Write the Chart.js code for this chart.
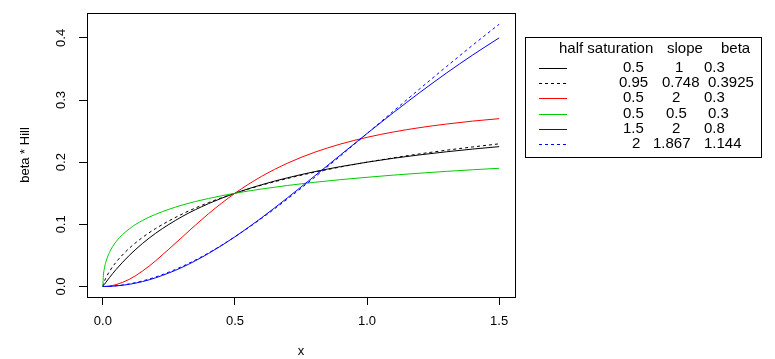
<!DOCTYPE html>
<html><head><meta charset="utf-8">
<script src="https://cdn.jsdelivr.net/npm/chart.js@4/dist/chart.umd.min.js"></script>
<style>html,body{margin:0;padding:0;background:#fff;}canvas{display:block;}</style>
</head><body>
<canvas id="c" width="775" height="359"></canvas>
<script>
// ---- data ----
const xValues = [0, 0.002, 0.005, 0.01, 0.025, 0.05, 0.1, 0.15, 0.2, 0.3, 0.4, 0.5, 0.6, 0.7, 0.8, 0.9, 1.0, 1.1, 1.2, 1.3, 1.4, 1.5];
const hillK05n1   = [0, 0.0012, 0.0030, 0.0059, 0.0143, 0.0273, 0.0500, 0.0692, 0.0857, 0.1125, 0.1333, 0.1500, 0.1636, 0.1750, 0.1846, 0.1929, 0.2000, 0.2063, 0.2118, 0.2167, 0.2211, 0.2250];
const hillK095n075 = [0, 0.0039, 0.0076, 0.0126, 0.0242, 0.0391, 0.0615, 0.0789, 0.0933, 0.1165, 0.1349, 0.1500, 0.1629, 0.1739, 0.1837, 0.1923, 0.2000, 0.2070, 0.2134, 0.2192, 0.2245, 0.2295];
const hillK05n2   = [0, 0.0000, 0.0000, 0.0001, 0.0007, 0.0030, 0.0115, 0.0248, 0.0414, 0.0794, 0.1171, 0.1500, 0.1770, 0.1986, 0.2157, 0.2292, 0.2400, 0.2486, 0.2556, 0.2613, 0.2661, 0.2700];
const hillK05n05  = [0, 0.0178, 0.0273, 0.0372, 0.0548, 0.0721, 0.0927, 0.1062, 0.1162, 0.1310, 0.1416, 0.1500, 0.1568, 0.1626, 0.1676, 0.1719, 0.1757, 0.1792, 0.1823, 0.1852, 0.1878, 0.1902];
const hillK15n2   = [0, 0.0000, 0.0000, 0.0000, 0.0002, 0.0009, 0.0035, 0.0079, 0.0140, 0.0308, 0.0531, 0.0800, 0.1103, 0.1431, 0.1772, 0.2118, 0.2462, 0.2798, 0.3122, 0.3432, 0.3725, 0.4000];
const hillK2n187  = [0, 0.0000, 0.0000, 0.0001, 0.0003, 0.0012, 0.0042, 0.0090, 0.0153, 0.0322, 0.0540, 0.0800, 0.1093, 0.1412, 0.1751, 0.2103, 0.2461, 0.2822, 0.3182, 0.3536, 0.3883, 0.4220];

const halfSaturation = ['0.5', '0.95', '0.5', '0.5', '1.5', '2'];
const slope          = ['1', '0.748', '2', '0.5', '2', '1.867'];
const beta           = ['0.3', '0.3925', '0.3', '0.3', '0.8', '1.144'];
const legendHeader   = ['half saturation', 'slope', 'beta'];

const xTickValues = [0, 0.5, 1.0, 1.5];
const xTickLabels = ['0.0', '0.5', '1.0', '1.5'];
const yTickValues = [0, 0.1, 0.2, 0.3, 0.4];
const yTickLabels = ['0.0', '0.1', '0.2', '0.3', '0.4'];
const xTitle = 'x';
const yTitle = 'beta * Hill';

// ---- styles ----
const seriesList = [hillK05n1, hillK095n075, hillK05n2, hillK05n05, hillK15n2, hillK2n187];
const seriesColors = ['#000000', '#000000', '#FF0000', '#00CD00', '#0000FF', '#0000FF'];
const seriesDash = [[], [3, 3], [], [], [], [3, 3]];
const FONT = '"Liberation Sans", Arial, sans-serif';

const datasets = seriesList.map((ys, i) => ({
  data: xValues.map((x, j) => ({x: x, y: ys[j]})),
  borderColor: seriesColors[i],
  borderWidth: 1,
  borderDash: seriesDash[i],
  pointRadius: 0,
  fill: false,
  cubicInterpolationMode: 'monotone',
  order: seriesList.length - i
}));

const rPlotDecor = {
  id: 'rPlotDecor',
  afterDraw(chart) {
    const ctx = chart.ctx, a = chart.chartArea;
    const xs = chart.scales.x, ys = chart.scales.y;
    ctx.save();
    ctx.strokeStyle = '#000'; ctx.lineWidth = 1; ctx.setLineDash([]);
    ctx.strokeRect(Math.round(a.left) + 0.5, Math.round(a.top) + 0.5, Math.round(a.right - a.left), Math.round(a.bottom - a.top));
    ctx.fillStyle = '#000';
    ctx.font = '13px ' + FONT;
    // x tick labels
    ctx.textAlign = 'center'; ctx.textBaseline = 'alphabetic';
    xTickValues.forEach((v, i) => ctx.fillText(xTickLabels[i], xs.getPixelForValue(v), 325));
    // y tick labels (rotated)
    yTickValues.forEach((v, i) => {
      ctx.save();
      ctx.translate(65, ys.getPixelForValue(v));
      ctx.rotate(-Math.PI / 2);
      ctx.fillText(yTickLabels[i], 0, 0);
      ctx.restore();
    });
    // axis titles
    ctx.fillText(xTitle, (a.left + a.right) / 2, 355);
    ctx.save();
    ctx.translate(29, (a.top + a.bottom) / 2);
    ctx.rotate(-Math.PI / 2);
    ctx.fillText(yTitle, 0, 0);
    ctx.restore();

    // legend
    ctx.strokeRect(525.5, 37.5, 236, 120);
    ctx.font = '15px ' + FONT;
    ctx.textAlign = 'left';
    const headerX = [559, 667, 721];
    legendHeader.forEach((t, i) => ctx.fillText(t, headerX[i], 53.3));
    const colX = [[623, 675, 704], [619, 662, 708], [623, 672, 704], [623, 666, 708], [623, 672, 704], [632, 653, 704]];
    for (let r = 0; r < seriesList.length; r++) {
      const yb = 71.7 + r * 15.35;
      ctx.strokeStyle = seriesColors[r];
      ctx.setLineDash(seriesDash[r]);
      ctx.beginPath();
      ctx.moveTo(539, Math.round(yb - 4) + 0.5);
      ctx.lineTo(567, Math.round(yb - 4) + 0.5);
      ctx.stroke();
      ctx.fillText(halfSaturation[r], colX[r][0], yb);
      ctx.fillText(slope[r], colX[r][1], yb);
      ctx.fillText(beta[r], colX[r][2], yb);
    }
    ctx.restore();
  }
};

new Chart(document.getElementById('c'), {
  type: 'line',
  data: { datasets: datasets },
  options: {
    responsive: false,
    animation: false,
    devicePixelRatio: 1,
    layout: { padding: { left: 0, right: 260, top: 13, bottom: 0 } },
    plugins: { legend: { display: false }, tooltip: { enabled: false }, title: { display: false } },
    scales: {
      x: {
        type: 'linear', min: -0.06, max: 1.56,
        afterBuildTicks: s => { s.ticks = xTickValues.map(v => ({value: v})); },
        afterFit: s => { s.height = 62; },
        grid: { display: true, drawOnChartArea: false, drawTicks: true, tickLength: 8, color: '#000', lineWidth: 1 },
        border: { display: false },
        ticks: { display: false }
      },
      y: {
        type: 'linear', min: -0.0169, max: 0.44,
        afterBuildTicks: s => { s.ticks = yTickValues.map(v => ({value: v})); },
        afterFit: s => { s.width = 87; },
        grid: { display: true, drawOnChartArea: false, drawTicks: true, tickLength: 8, color: '#000', lineWidth: 1 },
        border: { display: false },
        ticks: { display: false }
      }
    }
  },
  plugins: [rPlotDecor]
});
</script>
</body></html>
